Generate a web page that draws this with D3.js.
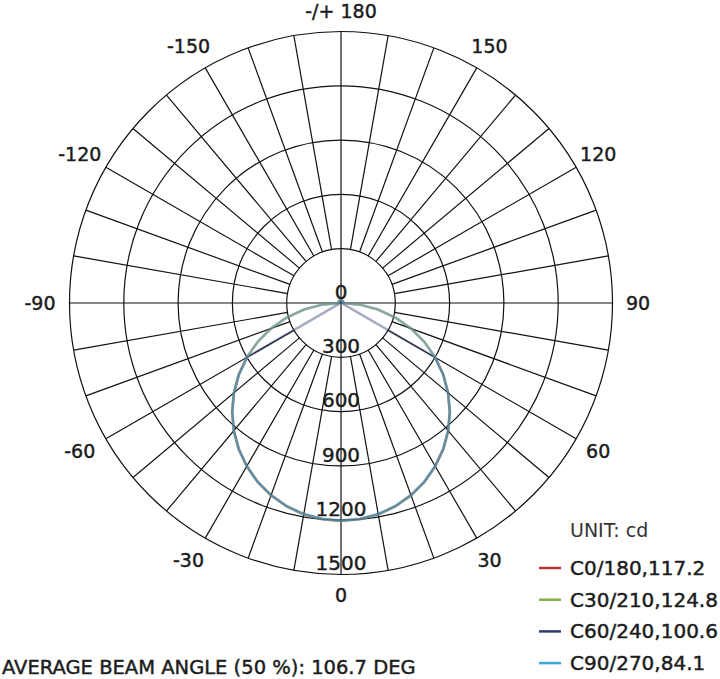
<!DOCTYPE html>
<html lang="en">
<head>
<meta charset="utf-8">
<title>Polar intensity diagram</title>
<script src="https://cdn.jsdelivr.net/npm/d3@7"></script>
<style>
  body { margin: 0; background: #fff; }
  text { font-family: "DejaVu Sans", sans-serif; fill: #1c1c1c; stroke: #1c1c1c; stroke-width: 0.45px; }
</style>
</head>
<body>
<script>
// gamma angles (deg) and intensities (cd), one half-plane, mirrored on the left
const gammaDeg = [0, 5, 10, 15, 20, 25, 30, 35, 40, 45, 50, 55, 60, 65, 70, 75, 80, 85, 90,
                  95, 100, 105, 110, 115, 120, 125, 130, 135, 140, 145, 150, 155, 160, 165, 170, 175, 180];
const c0 = [1204, 1199, 1186, 1163, 1131, 1091, 1042, 986, 922, 851, 773, 690, 601, 508, 411, 311, 208, 104, 11,
            14, 14, 14, 14, 14, 14, 14, 14, 14, 14, 14, 14, 14, 14, 14, 14, 14, 14];
const c30 = [1205, 1200, 1187, 1164, 1132, 1092, 1043, 987, 923, 852, 774, 691, 602, 509, 412, 312, 209, 105, 12,
             14, 15, 15, 16, 16, 16, 16, 16, 16, 16, 16, 16, 16, 16, 16, 16, 16, 16];
const c60 = [1202, 1197, 1184, 1161, 1129, 1089, 1040, 984, 920, 849, 771, 688, 599, 17, 14, 13, 13, 13, 13,
             13, 13, 13, 13, 13, 13, 13, 13, 13, 13, 13, 13, 13, 13, 13, 13, 13, 13];
const c90 = [1203, 1198, 1185, 1162, 1130, 1090, 1041, 985, 921, 850, 772, 689, 600, 507, 410, 310, 207, 104, 10,
             13, 14, 14, 15, 15, 15, 15, 15, 15, 15, 15, 15, 15, 15, 15, 15, 15, 15];

const seriesNames = ["C0/180,117.2", "C30/210,124.8", "C60/240,100.6", "C90/270,84.1"];
const seriesColors = ["#b8322c", "#86ad4a", "#2e3a6a", "#3fa6dc"];
const seriesValues = [c0, c30, c60, c90];
const drawOrder = [0, 1, 2, 3];

const radialTicks = [0, 300, 600, 900, 1200, 1500];
const angleTicks = [0, 30, 60, 90, 120, 150, 180, -150, -120, -90, -60, -30];
const angleLabels = ["0", "30", "60", "90", "120", "150", "-/+ 180", "-150", "-120", "-90", "-60", "-30"];

const width = 720, height = 679;
const cx = 341, cy = 303;
const outerR = 271.5;

const svg = d3.select("body").append("svg")
  .attr("width", width)
  .attr("height", height);

const r = d3.scaleLinear().domain([0, 1500]).range([0, outerR]);
const toRad = d => d * Math.PI / 180;
// gamma 0 points down, positive gamma to the right
const px = (g, v) => cx + r(v) * Math.sin(toRad(g));
const py = (g, v) => cy + r(v) * Math.cos(toRad(g));

const grid = svg.append("g")
  .attr("fill", "none")
  .attr("stroke", "#111")
  .attr("stroke-width", 1.2);

// rings
grid.selectAll("circle")
  .data(radialTicks.slice(1))
  .enter()
  .append("circle")
  .attr("cx", cx)
  .attr("cy", cy)
  .attr("r", d => r(d));

// spokes every 10 deg, main axes go through the centre
grid.selectAll("line")
  .data(d3.range(-170, 190, 10))
  .enter()
  .append("line")
  .attr("x1", d => px(d, d % 90 === 0 ? 0 : 300))
  .attr("y1", d => py(d, d % 90 === 0 ? 0 : 300))
  .attr("x2", d => px(d, 1500))
  .attr("y2", d => py(d, 1500));

// curves
const line = d3.lineRadial()
  .angle(d => Math.PI - toRad(d[0]))
  .radius(d => r(d[1]));

function fullCurve(vals) {
  const pts = [];
  for (let i = gammaDeg.length - 1; i > 0; i--) pts.push([-gammaDeg[i], vals[i]]);
  for (let i = 0; i < gammaDeg.length; i++) pts.push([gammaDeg[i], vals[i]]);
  return pts;
}

svg.append("g")
  .attr("transform", "translate(" + [cx, cy] + ")")
  .selectAll("path")
  .data(drawOrder)
  .enter()
  .append("path")
  .attr("d", i => line(fullCurve(seriesValues[i])))
  .attr("fill", "none")
  .attr("stroke", i => seriesColors[i])
  .attr("stroke-opacity", 0.42)
  .attr("stroke-width", 2.5)
  .attr("stroke-linejoin", "round");

// radial labels
svg.append("g")
  .selectAll("text")
  .data(radialTicks)
  .enter()
  .append("text")
  .attr("x", cx)
  .attr("y", d => cy + r(d) - 11.5)
  .attr("dy", "0.36em")
  .attr("text-anchor", "middle")
  .style("font-size", "20px")
  .text(d => d);

// angle labels
svg.append("g")
  .selectAll("text")
  .data(angleTicks)
  .enter()
  .append("text")
  .attr("x", d => {
    const rr = (d % 180 === 0) ? 292 : 297;
    return cx + rr * Math.sin(toRad(d)) + (d < 0 ? -4 : 0);
  })
  .attr("y", d => {
    const rr = (d % 180 === 0) ? 292 : 297;
    return cy + rr * Math.cos(toRad(d));
  })
  .attr("dy", "0.36em")
  .attr("text-anchor", "middle")
  .style("font-size", "19px")
  .text((d, i) => angleLabels[i]);

// legend
svg.append("text")
  .attr("x", 570)
  .attr("y", 537)
  .style("font-size", "19px")
  .style("fill", "#333")
  .style("stroke", "none")
  .text("UNIT: cd");

const legend = svg.append("g")
  .selectAll("g")
  .data(seriesNames)
  .enter()
  .append("g")
  .attr("transform", (d, i) => "translate(" + [0, 568 + i * 31.7] + ")");

legend.append("line")
  .attr("x1", 539)
  .attr("x2", 561)
  .attr("stroke", (d, i) => seriesColors[i])
  .attr("stroke-width", 2.5);

legend.append("text")
  .attr("x", 570)
  .attr("y", 7)
  .style("font-size", "20px")
  .text(d => d);

svg.append("text")
  .attr("x", 2)
  .attr("y", 674)
  .style("font-size", "19.5px")
  .text("AVERAGE BEAM ANGLE (50 %): 106.7 DEG");
</script>
</body>
</html>
